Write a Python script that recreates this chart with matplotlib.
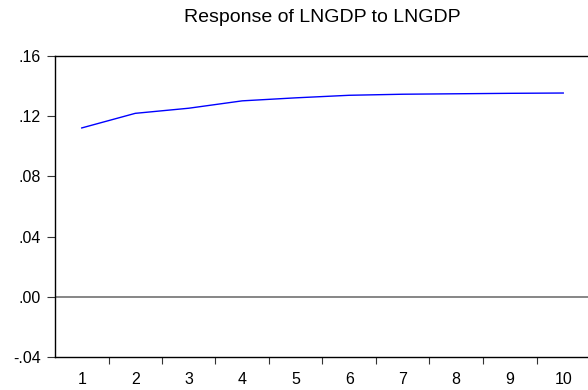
import numpy as np
import matplotlib
matplotlib.use('Agg')
from matplotlib import pyplot as plt
from matplotlib.ticker import FixedLocator, FuncFormatter

plt.rcParams['font.family'] = ['Liberation Sans', 'DejaVu Sans']

# Impulse response
periods = [1, 2, 3, 4, 5, 6, 7, 8, 9, 10]
response = [0.1122, 0.1219, 0.1253, 0.1302, 0.1322, 0.1339, 0.1346, 0.1349, 0.1352, 0.1354]
yticks = [-0.04, 0.00, 0.04, 0.08, 0.12, 0.16]
title = 'Response of LNGDP to LNGDP'


def fmt(v, pos):
    s = '%.2f' % v
    if s.startswith('-0'):
        return '-' + s[2:]
    if s.startswith('0'):
        return s[1:]
    return s


fig = plt.figure(figsize=(5.88, 3.9), dpi=100)
ax = fig.add_axes([55/588, 1 - 357/390, 535/588, 301/390])

ax.plot(periods, response, color='#0000ff', lw=1.0)
ax.axhline(0, color='#666666', lw=1.1)

ax.set_xlim(0.5, 10.5)
ax.set_ylim(-0.04, 0.16)

# ticks sit between the periods, labels at the periods
ax.xaxis.set_major_locator(FixedLocator(np.arange(1.5, 10.5, 1)))
ax.xaxis.set_major_formatter(FuncFormatter(lambda v, p: ''))
ax.xaxis.set_minor_locator(FixedLocator(periods))
ax.xaxis.set_minor_formatter(FuncFormatter(lambda v, p: '%d' % v))
ax.tick_params(axis='x', which='major', direction='out', length=5, width=0.8, color='#333333')
ax.tick_params(axis='x', which='minor', length=0, pad=10.5, labelsize=11.5)

ax.yaxis.set_major_locator(FixedLocator(yticks))
ax.yaxis.set_major_formatter(FuncFormatter(fmt))
ax.tick_params(axis='y', direction='out', length=6, width=0.8, pad=4, labelsize=11.5, color='#333333')

for side in ['left', 'top', 'bottom']:
    ax.spines[side].set_linewidth(1.0)
    ax.spines[side].set_color('black')
ax.spines['right'].set_visible(False)

fig.text(322/588, 1 - 18/390, title, ha='center', va='center', fontsize=14)

fig.savefig('out.png', dpi=100)
